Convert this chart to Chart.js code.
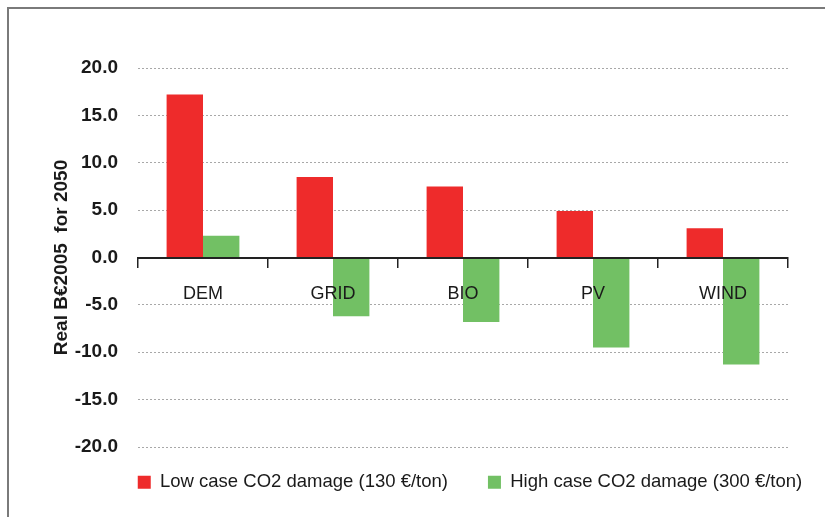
<!DOCTYPE html>
<html>
<head>
<meta charset="utf-8">
<script src="https://cdn.jsdelivr.net/npm/chart.js@4"></script>
<style>
  html, body { margin: 0; padding: 0; background: #fff; overflow: hidden; }
  #wrap { width: 825px; height: 517px; position: relative; }
</style>
</head>
<body>
<div id="wrap"><canvas id="chartco2"></canvas></div>
<script>
const categories = ['DEM', 'GRID', 'BIO', 'PV', 'WIND'];
const lowCase = [17.2, 8.5, 7.5, 4.9, 3.1];
const highCase = [2.3, -6.2, -6.8, -9.5, -11.3];
const seriesNames = ['Low case CO2 damage (130 €/ton)', 'High case CO2 damage (300 €/ton)'];
const yTitle = 'Real B€2005  for 2050';

const FONT = "'Liberation Sans', Arial, sans-serif";

// grey frame on the left and top, like the scanned figure
const framePlugin = {
    id: 'frame',
    beforeDraw(chart) {
        const ctx = chart.ctx;
        ctx.save();
        ctx.strokeStyle = '#7a7a7a';
        ctx.lineWidth = 2;
        ctx.beginPath();
        ctx.moveTo(8, chart.height);
        ctx.lineTo(8, 8);
        ctx.lineTo(chart.width, 8);
        ctx.stroke();
        ctx.restore();
    }
};

// nudge the legend row into place under the plot
const legendShift = {
    id: 'legendShift',
    afterLayout(chart) {
        const lg = chart.legend;
        lg.left += 76; lg.right += 76;
        lg.top -= 14; lg.bottom -= 14;
    }
};

const data = {
    labels: categories,
    datasets: [{
        label: seriesNames[0],
        data: lowCase,
        backgroundColor: '#ee2b2b',
        borderWidth: 0,
    }, {
        label: seriesNames[1],
        data: highCase,
        backgroundColor: '#72c064',
        borderWidth: 0,
    }]
};

const config = {
    type: 'bar',
    data: data,
    options: {
        responsive: true,
        maintainAspectRatio: false,
        animation: false,
        categoryPercentage: 0.56,
        barPercentage: 1.0,
        layout: {
            padding: { top: 68, left: 0, right: 37, bottom: 1.5 }
        },
        scales: {
            x: {
                position: { y: 0 },
                offset: true,
                grid: {
                    offset: true,
                    drawOnChartArea: false,
                    drawTicks: true,
                    tickLength: 9,
                    color: '#222',
                    lineWidth: 1.5,
                    z: 1,
                },
                border: { display: true, color: '#222', width: 2, z: 1 },
                ticks: {
                    padding: 17,
                    color: '#1a1a1a',
                    z: 1,
                    font: { family: FONT, size: 18 },
                },
            },
            y: {
                min: -20,
                max: 20,
                afterFit(scale) { scale.width = 138; },
                ticks: {
                    stepSize: 5,
                    padding: 20,
                    color: '#1a1a1a',
                    font: { family: FONT, size: 19, weight: 'bold' },
                    callback: (v) => v.toFixed(1),
                },
                grid: {
                    drawTicks: false,
                    color: '#a8a8a8',
                    lineWidth: 1,
                },
                border: { display: false, dash: [2, 2] },
                title: {
                    display: true,
                    text: yTitle,
                    color: '#1a1a1a',
                    padding: { top: 50, bottom: 0 },
                    font: { family: FONT, size: 19, weight: 'bold' },
                },
            },
        },
        plugins: {
            legend: {
                position: 'bottom',
                labels: {
                    boxWidth: 13,
                    boxHeight: 13,
                    padding: 40,
                    color: '#1a1a1a',
                    font: { family: FONT, size: 18.5 },
                },
            },
            tooltip: { enabled: false },
        },
    },
    plugins: [framePlugin, legendShift],
};

const chartco2 = new Chart(
    document.getElementById('chartco2'),
    config
);
</script>
</body>
</html>
